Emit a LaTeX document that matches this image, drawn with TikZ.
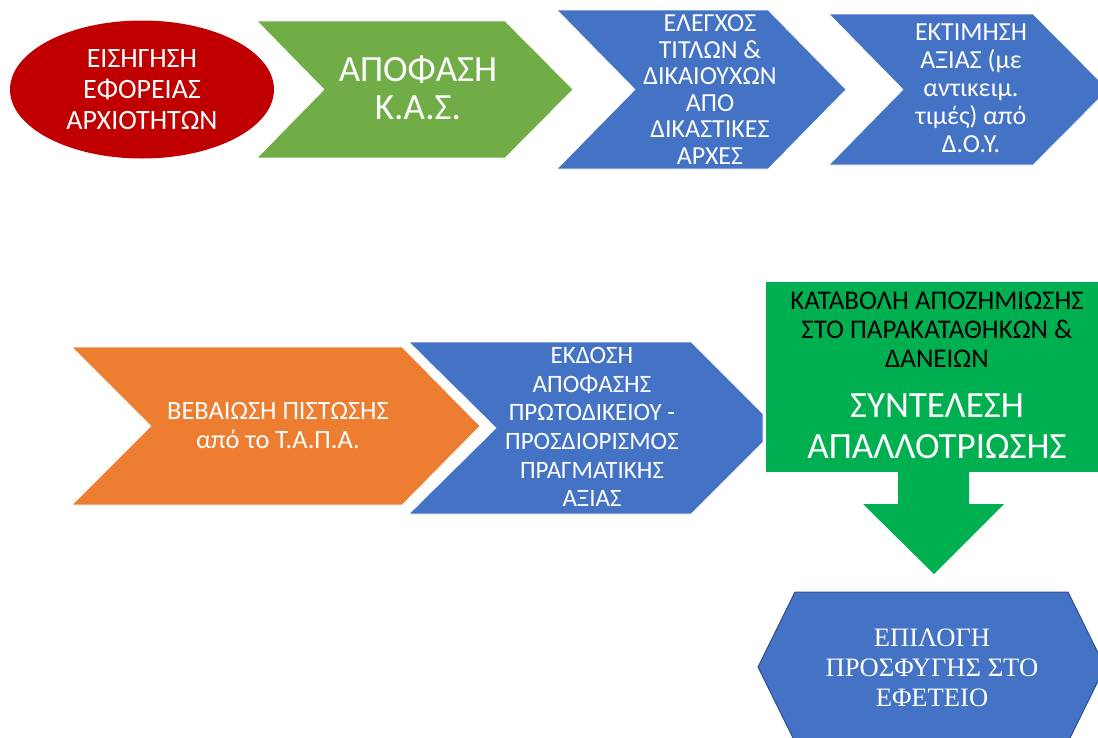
\documentclass[tikz,border=0pt]{standalone}
\usepackage{fontspec}
\setmainfont{Carlito}
\newfontfamily\serifgr{Liberation Serif}
\usetikzlibrary{shapes.geometric}
\definecolor{cred}{HTML}{C00000}
\definecolor{cgreen}{HTML}{70AD47}
\definecolor{cblue}{HTML}{4472C4}
\definecolor{corange}{HTML}{ED7D31}
\definecolor{cbright}{HTML}{00B050}
\definecolor{cdark}{HTML}{2F528F}
\tikzset{
  shapefill/.style={draw=white,line width=0.6pt,line join=miter},
  txt/.style={text=white,align=center,inner sep=0pt},
  fsmall/.style={font=\fontsize{26}{26.6}\selectfont},
}
\begin{document}
\begin{tikzpicture}[x=1pt,y=-1pt]
\useasboundingbox (0,0) rectangle (1098,737);
% ellipse
\node[ellipse,fill=cred,minimum width=264pt,minimum height=138pt,inner sep=0pt] (ell) at (142,89.5) {};
\node[txt,font=\fontsize{28}{31}\selectfont] (ellt) at (ell.center) {ΕΙΣΗΓΗΣΗ\\ΕΦΟΡΕΙΑΣ\\ΑΡΧΙΟΤΗΤΩΝ};
% green chevron
\fill[cgreen,shapefill] (257,21) -- (505,21) -- (573,89.5) -- (505,158) -- (257,158) -- (324,89.5) -- cycle;
\node[txt,font=\fontsize{37}{38}\selectfont] (kas) at (418,88) {ΑΠΟΦΑΣΗ\\Κ.Α.Σ.};
% blue chevron 1
\fill[cblue,shapefill] (557,10) -- (768,10) -- (846,89.5) -- (768,169) -- (557,169) -- (635,89.5) -- cycle;
\node[txt,fsmall] (elegx) at (710,89.5) {ΕΛΕΓΧΟΣ\\ΤΙΤΛΩΝ \&\\ΔΙΚΑΙΟΥΧΩΝ\\ΑΠΟ\\ΔΙΚΑΣΤΙΚΕΣ\\ΑΡΧΕΣ};
% blue chevron 2
\fill[cblue,shapefill] (829,14) -- (1033,14) -- (1108,89.5) -- (1033,165) -- (829,165) -- (903,89.5) -- cycle;
\node[txt,font=\fontsize{26}{28}\selectfont] (ektim) at (971,88) {ΕΚΤΙΜΗΣΗ\\ΑΞΙΑΣ (με\\αντικειμ.\\τιμές) από\\Δ.Ο.Υ.};
% orange chevron
\fill[corange,shapefill] (72,347) -- (402,347) -- (480,426) -- (402,505) -- (72,505) -- (151,426) -- cycle;
\node[txt,font=\fontsize{26.4}{29}\selectfont] (bebai) at (278,426) {ΒΕΒΑΙΩΣΗ ΠΙΣΤΩΣΗΣ\\από το Τ.Α.Π.Α.};
% blue chevron 3
\fill[cblue,shapefill] (409,342) -- (691,342) -- (763,414) -- (763,442) -- (691,514) -- (409,514) -- (496,428) -- cycle;
\node[txt,font=\fontsize{25}{28.6}\selectfont] (ekd) at (592,427) {ΕΚΔΟΣΗ\\ΑΠΟΦΑΣΗΣ\\ΠΡΩΤΟΔΙΚΕΙΟΥ -\\ΠΡΟΣΔΙΟΡΙΣΜΟΣ\\ΠΡΑΓΜΑΤΙΚΗΣ\\ΑΞΙΑΣ};
% green box with arrow
\fill[cbright] (766,282) rectangle (1098,472);
\fill[cbright] (898,471) -- (898,504) -- (863,504) -- (934,574) -- (1004,504) -- (969,504) -- (969,471) -- cycle;
\node[inner sep=0pt,align=center,text=black,font=\fontsize{27}{29}\selectfont] (katab) at (937,330) {ΚΑΤΑΒΟΛΗ ΑΠΟΖΗΜΙΩΣΗΣ\\ΣΤΟ ΠΑΡΑΚΑΤΑΘΗΚΩΝ \&\\ΔΑΝΕΙΩΝ};
\node[txt,font=\fontsize{37}{41}\selectfont] (synt) at (937,426.5) {ΣΥΝΤΕΛΕΣΗ\\ΑΠΑΛΛΟΤΡΙΩΣΗΣ};
% hexagon
\filldraw[fill=cblue,draw=cdark,line width=1pt] (795,592) -- (1068,592) -- (1105,667) -- (1068,742) -- (795,742) -- (758,667) -- cycle;
\node[txt,font=\serifgr\fontsize{26.6}{30}\selectfont] (epil) at (932,667.5) {ΕΠΙΛΟΓΗ\\ΠΡΟΣΦΥΓΗΣ ΣΤΟ\\ΕΦΕΤΕΙΟ};
\end{tikzpicture}
\end{document}
